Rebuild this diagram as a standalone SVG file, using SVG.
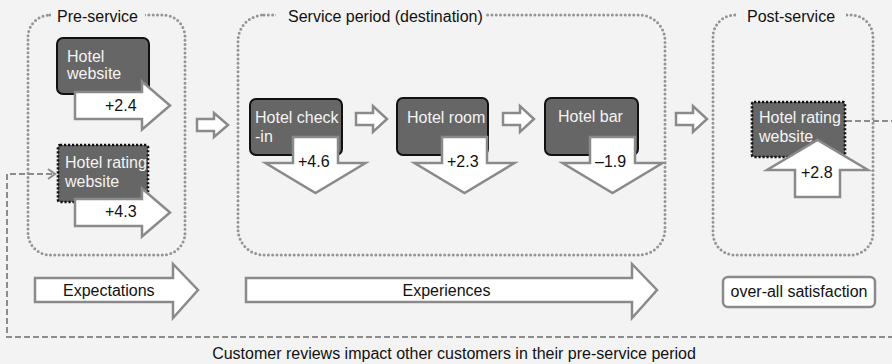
<svg xmlns="http://www.w3.org/2000/svg" width="892" height="364" viewBox="0 0 892 364">
<defs>
<style>
text{font-family:"Liberation Sans",Arial,sans-serif;font-size:16px;fill:#111}
.nt{fill:#f4f4f4}
.phase{fill:none;stroke:#959595;stroke-width:3;stroke-dasharray:0 4.3;stroke-linecap:round}
.mask{fill:#f3f3f3}
.node{fill:#666;stroke:#111;stroke-width:2}
.rnode{fill:#666;stroke:#111;stroke-width:2.6;stroke-dasharray:2.2 1.8}
.arr{fill:#fff;stroke:#8a8a8a;stroke-width:2.5;stroke-linejoin:miter}
.sarr{fill:#fff;stroke:#8a8a8a;stroke-width:2.5}
.big{fill:#fff;stroke:#8a8a8a;stroke-width:2.5}
.dash{fill:none;stroke:#8c8c8c;stroke-width:2;stroke-dasharray:6 3}
</style>
<marker id="chev" markerWidth="10" markerHeight="12" refX="8" refY="6" orient="auto" markerUnits="userSpaceOnUse">
<path d="M1,1 L8,6 L1,11" fill="none" stroke="#8c8c8c" stroke-width="2"/>
</marker>
</defs>
<rect x="0" y="0" width="892" height="364" fill="#f3f3f3"/>

<g id="phases">
<rect class="phase" x="28" y="15" width="157" height="240" rx="22"/>
<rect class="mask" x="51" y="8" width="94" height="18"/>
<text x="57" y="22">Pre-service</text>
<rect class="phase" x="238" y="15" width="427" height="240" rx="26"/>
<rect class="mask" x="276" y="8" width="210" height="18"/>
<text x="288" y="22">Service period (destination)</text>
<rect class="phase" x="713" y="15" width="160" height="240" rx="22"/>
<rect class="mask" x="736" y="8" width="110" height="18"/>
<text x="747" y="22">Post-service</text>
</g>

<g id="connectors">
<path class="dash" d="M846,121 H897 V337 H7 V174 H55" marker-end="url(#chev)"/>
<polygon class="sarr" points="197,119 214,119 214,113 228,125 214,137 214,131 197,131"/>
<polygon class="sarr" points="356,113 373,113 373,106 387,119 373,132 373,125 356,125"/>
<polygon class="sarr" points="503,113 520,113 520,106 534,119 520,132 520,125 503,125"/>
<polygon class="sarr" points="676,113 693,113 693,106 707,119 693,132 693,125 676,125"/>
</g>

<g id="hotel-website">
<rect class="node" x="57" y="38" width="92" height="56" rx="6"/>
<text class="nt" x="67" y="62">Hotel</text>
<text class="nt" x="67" y="79">website</text>
<polygon class="arr" points="75,92 142,92 142,81.5 170,105.5 142,129.5 142,119 75,119"/>
<text x="105" y="111">+2.4</text>
</g>

<g id="hotel-rating-pre">
<rect class="rnode" x="58" y="145" width="90" height="57" rx="2"/>
<text class="nt" x="65" y="168">Hotel rating</text>
<text class="nt" x="65" y="187">website</text>
<polygon class="arr" points="75,199 142,199 142,188.5 170,212.5 142,236.5 142,226 75,226"/>
<text x="105" y="217">+4.3</text>
</g>

<g id="hotel-checkin">
<rect class="node" x="250" y="99" width="92" height="56" rx="6"/>
<text class="nt" x="255" y="123">Hotel check</text>
<text class="nt" x="255" y="142">-in</text>
<polygon class="arr" points="293,137 338,137 338,163 365.5,163 315.5,193 265.5,163 293,163"/>
<text x="298" y="167">+4.6</text>
</g>

<g id="hotel-room">
<rect class="node" x="397" y="98" width="91" height="57" rx="6"/>
<text class="nt" x="407" y="123">Hotel room</text>
<polygon class="arr" points="442,137 487,137 487,163 514.5,163 464.5,193 414.5,163 442,163"/>
<text x="447" y="167">+2.3</text>
</g>

<g id="hotel-bar">
<rect class="node" x="545" y="98" width="93" height="57" rx="6"/>
<text class="nt" x="558" y="122">Hotel bar</text>
<polygon class="arr" points="590,137 635,137 635,163 662.5,163 612.5,193 562.5,163 590,163"/>
<text x="595" y="167">–1.9</text>
</g>

<g id="hotel-rating-post">
<rect class="rnode" x="752" y="102" width="93" height="55" rx="2"/>
<text class="nt" x="759" y="123">Hotel rating</text>
<text class="nt" x="759" y="142">website</text>
<polygon class="arr" points="795,197 840,197 840,170 868,170 817.5,140 767,170 795,170"/>
<text x="801" y="178">+2.8</text>
</g>

<g id="expectations">
<polygon class="big" points="35,278 173,278 173,264 198,290 173,318 173,302 35,302"/>
<text x="63" y="296">Expectations</text>
</g>

<g id="experiences">
<polygon class="big" points="246,278 632,278 632,264 657,290 632,318 632,302 246,302"/>
<text x="446.5" y="296" text-anchor="middle">Experiences</text>
</g>

<g id="satisfaction">
<rect class="big" x="723" y="277" width="152" height="30" rx="5"/>
<text x="799" y="297" text-anchor="middle">over-all satisfaction</text>
</g>

<text x="454" y="359" text-anchor="middle">Customer reviews impact other customers in their pre-service period</text>
</svg>
